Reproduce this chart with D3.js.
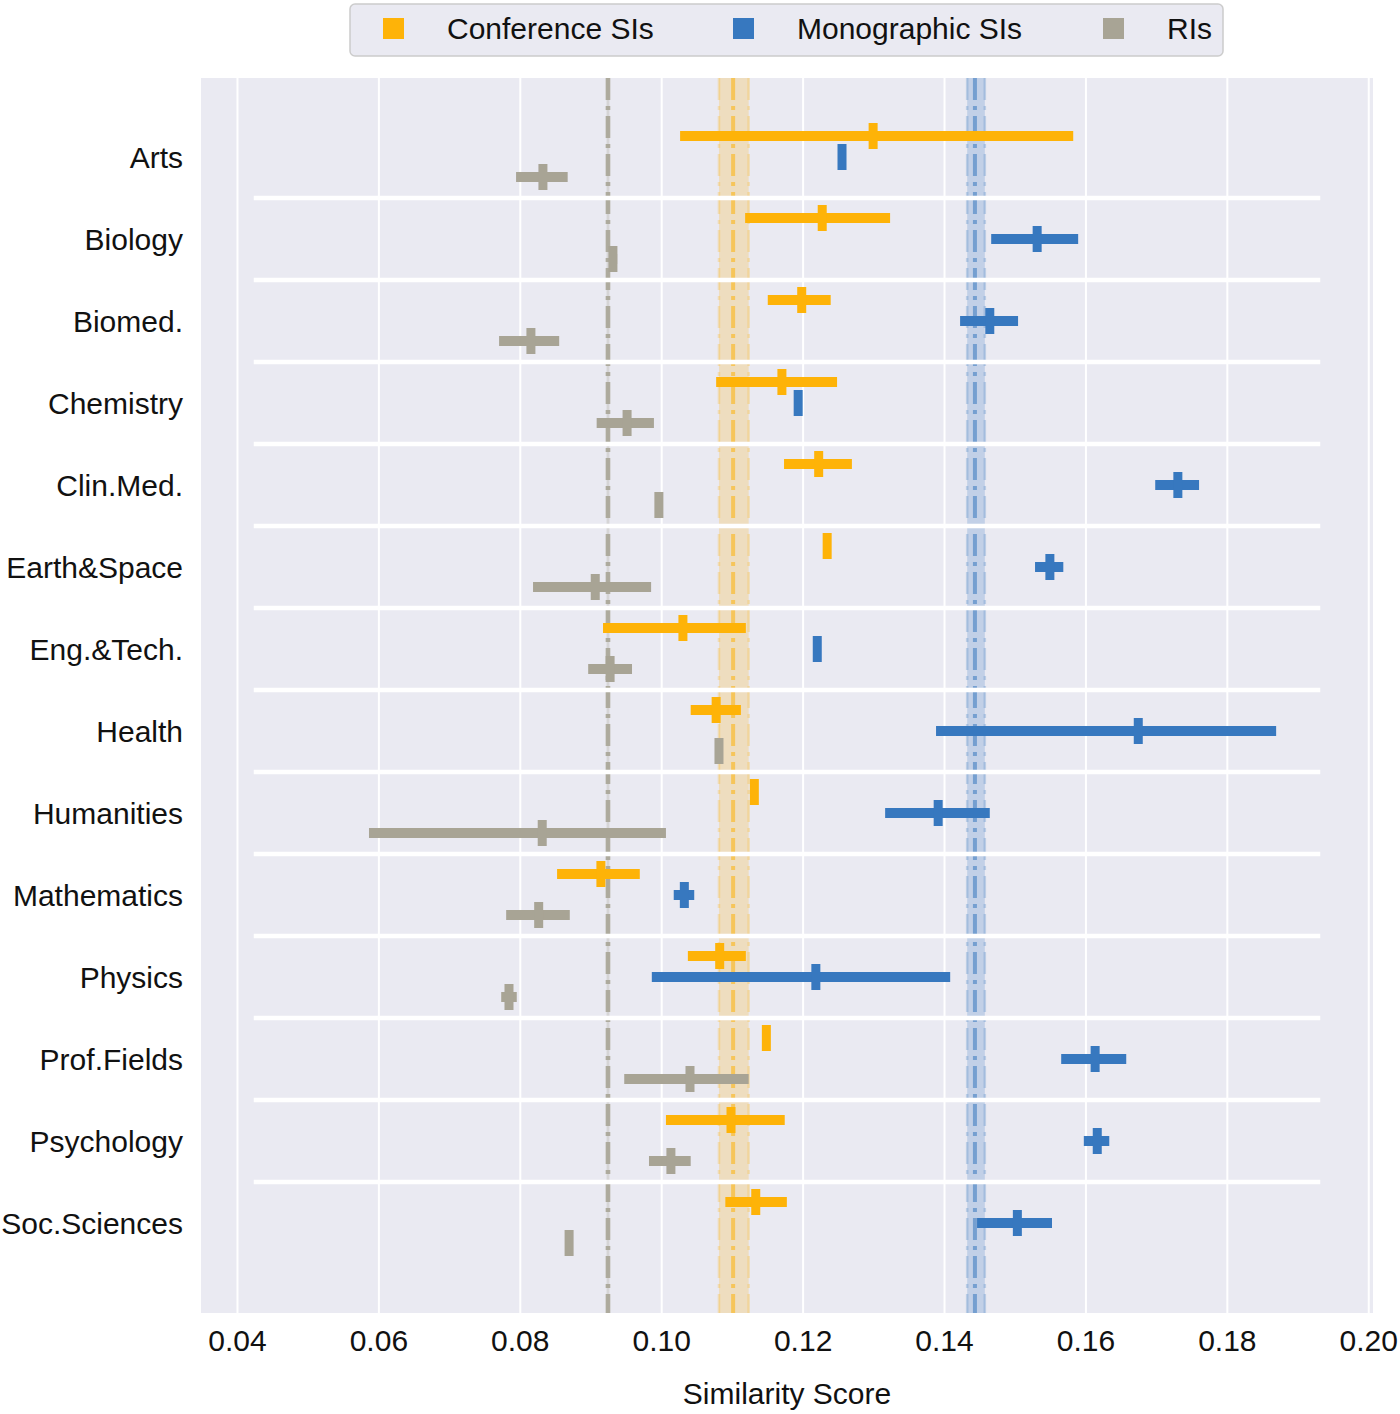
<!DOCTYPE html>
<html>
<head>
<meta charset="utf-8">
<script src="https://cdn.jsdelivr.net/npm/d3@7"></script>
<style>
  body { margin: 0; background: #ffffff; }
  svg { display: block; font-family: "Liberation Sans", Arial, sans-serif; }
</style>
</head>
<body>
<svg id="chart" width="1400" height="1414"></svg>
<script>
// ---------------- data ----------------
const categories = ["Arts", "Biology", "Biomed.", "Chemistry", "Clin.Med.", "Earth&Space",
  "Eng.&Tech.", "Health", "Humanities", "Mathematics", "Physics", "Prof.Fields",
  "Psychology", "Soc.Sciences"];

const seriesNames = ["Conference SIs", "Monographic SIs", "RIs"];
const seriesColors = ["#feb308", "#3778bf", "#a8a495"];

const confMean = [0.1299, 0.1227, 0.1198, 0.1170, 0.1222, 0.1234, 0.1030, 0.1077, 0.1131, 0.0914, 0.1082, 0.1148, 0.1098, 0.1133];
const confLo   = [0.1026, 0.1118, 0.1150, 0.1077, 0.1173, 0.1230, 0.0917, 0.1041, 0.1128, 0.0852, 0.1037, 0.1145, 0.1006, 0.1090];
const confHi   = [0.1582, 0.1323, 0.1239, 0.1248, 0.1269, 0.1238, 0.1119, 0.1112, 0.1134, 0.0969, 0.1119, 0.1151, 0.1174, 0.1177];

const monoMean = [0.1255, 0.1531, 0.1464, 0.1193, 0.1730, 0.1549, 0.1220, 0.1674, 0.1391, 0.1032, 0.1218, 0.1613, 0.1616, 0.1503];
const monoLo   = [0.1253, 0.1466, 0.1422, 0.1189, 0.1698, 0.1528, 0.1218, 0.1388, 0.1316, 0.1017, 0.0986, 0.1565, 0.1597, 0.1446];
const monoHi   = [0.1257, 0.1589, 0.1504, 0.1197, 0.1760, 0.1568, 0.1222, 0.1869, 0.1464, 0.1046, 0.1408, 0.1657, 0.1633, 0.1552];

const riMean = [0.0832, 0.0931, 0.0815, 0.0951, 0.0996, 0.0906, 0.0927, 0.1081, 0.0831, 0.0826, 0.0784, 0.1040, 0.1013, 0.0869];
const riLo   = [0.0794, 0.0926, 0.0770, 0.0908, 0.0993, 0.0818, 0.0896, 0.1077, 0.0586, 0.0780, 0.0773, 0.0947, 0.0982, 0.0865];
const riHi   = [0.0867, 0.0937, 0.0855, 0.0989, 0.0999, 0.0985, 0.0958, 0.1086, 0.1006, 0.0870, 0.0795, 0.1123, 0.1041, 0.0873];

// overall reference lines (mean with band) for Conference SIs, Monographic SIs, RIs
const refMean = [0.1101, 0.1443, 0.0924];
const refLo   = [0.1081, 0.1432, 0.0922];
const refHi   = [0.1123, 0.1457, 0.0926];

const xTicks = [0.04, 0.06, 0.08, 0.10, 0.12, 0.14, 0.16, 0.18, 0.20];
const xLabel = "Similarity Score";

// ---------------- layout ----------------
const svg = d3.select("#chart");
const plot = { left: 201, right: 1373, top: 78, bottom: 1313 };
const FS = 30;

const x = d3.scaleLinear().domain([0.03484, 0.2006]).range([plot.left, plot.right]);
const y = d3.scalePoint().domain(categories).range([157, 1223]);
const dodge = d3.scaleOrdinal().domain(seriesNames).range([-21, 0, 20]);

const series = [
  { name: seriesNames[0], color: seriesColors[0], mean: confMean, lo: confLo, hi: confHi },
  { name: seriesNames[1], color: seriesColors[1], mean: monoMean, lo: monoLo, hi: monoHi },
  { name: seriesNames[2], color: seriesColors[2], mean: riMean, lo: riLo, hi: riHi }
];

// background
svg.append("rect")
  .attr("x", plot.left).attr("y", plot.top)
  .attr("width", plot.right - plot.left).attr("height", plot.bottom - plot.top)
  .attr("fill", "#eaeaf2");

// vertical grid lines
svg.append("g").selectAll("line").data(xTicks).join("line")
  .attr("x1", d => x(d)).attr("x2", d => x(d))
  .attr("y1", plot.top).attr("y2", plot.bottom)
  .attr("stroke", "#ffffff").attr("stroke-width", 2);

// reference bands & lines
const refG = svg.append("g");
series.forEach((s, i) => {
  refG.append("rect")
    .attr("x", x(refLo[i])).attr("y", plot.top)
    .attr("width", x(refHi[i]) - x(refLo[i]))
    .attr("height", plot.bottom - plot.top)
    .attr("fill", s.color).attr("opacity", i === 2 ? 0.3 : 0.22);
  [refLo[i], refHi[i]].forEach(v => {
    refG.append("line")
      .attr("x1", x(v)).attr("x2", x(v))
      .attr("y1", plot.top).attr("y2", plot.bottom)
      .attr("stroke", s.color).attr("stroke-width", 2.5)
      .attr("stroke-dasharray", "22,6,4,6")
      .attr("opacity", i === 2 ? 0.4 : 0.25);
  });
  refG.append("line")
    .attr("x1", x(refMean[i])).attr("x2", x(refMean[i]))
    .attr("y1", plot.top).attr("y2", plot.bottom)
    .attr("stroke", s.color).attr("stroke-width", 4)
    .attr("stroke-dasharray", "22,6,4,6")
    .attr("opacity", i === 2 ? 0.8 : 0.55);
});

// separators between categories
const sepX1 = plot.left + 0.045 * (plot.right - plot.left);
const sepX2 = plot.left + 0.955 * (plot.right - plot.left);
const step = y.step();
svg.append("g").selectAll("line").data(categories.slice(1)).join("line")
  .attr("x1", sepX1).attr("x2", sepX2)
  .attr("y1", d => y(d) - step / 2).attr("y2", d => y(d) - step / 2)
  .attr("stroke", "#ffffff").attr("stroke-width", 4.5);

// error bars + mean markers
series.forEach(s => {
  const g = svg.append("g");
  const rows = categories.map((c, i) => ({ c, mean: s.mean[i], lo: s.lo[i], hi: s.hi[i] }));
  g.selectAll("line.ci").data(rows).join("line")
    .attr("class", "ci")
    .attr("x1", d => x(d.lo)).attr("x2", d => x(d.hi))
    .attr("y1", d => y(d.c) + dodge(s.name)).attr("y2", d => y(d.c) + dodge(s.name))
    .attr("stroke", s.color).attr("stroke-width", 10);
  g.selectAll("rect.m").data(rows).join("rect")
    .attr("class", "m")
    .attr("x", d => x(d.mean) - 4.5).attr("width", 9)
    .attr("y", d => y(d.c) + dodge(s.name) - 13).attr("height", 26)
    .attr("fill", s.color);
});

// x axis tick labels
svg.append("g").selectAll("text").data(xTicks).join("text")
  .attr("x", d => x(d)).attr("y", 1351)
  .attr("text-anchor", "middle")
  .attr("font-size", FS).attr("fill", "#111")
  .text(d => d3.format(".2f")(d));

svg.append("text")
  .attr("x", (plot.left + plot.right) / 2).attr("y", 1404)
  .attr("text-anchor", "middle").attr("font-size", FS).attr("fill", "#111")
  .text(xLabel);

// y labels
svg.append("g").selectAll("text").data(categories).join("text")
  .attr("x", 183).attr("y", d => y(d) + 11)
  .attr("text-anchor", "end")
  .attr("font-size", FS).attr("fill", "#111")
  .text(d => d);

// legend
const leg = svg.append("g");
leg.append("rect")
  .attr("x", 350).attr("y", 4).attr("width", 873).attr("height", 52)
  .attr("rx", 5).attr("fill", "#eaeaf2").attr("stroke", "#cccccc").attr("stroke-width", 1.5);
const legX = [383, 733, 1103];
series.forEach((s, i) => {
  leg.append("rect")
    .attr("x", legX[i]).attr("y", 18).attr("width", 21).attr("height", 21)
    .attr("fill", s.color);
  leg.append("text")
    .attr("x", legX[i] + 64).attr("y", 39)
    .attr("font-size", FS).attr("fill", "#111")
    .text(s.name);
});
</script>
</body>
</html>
